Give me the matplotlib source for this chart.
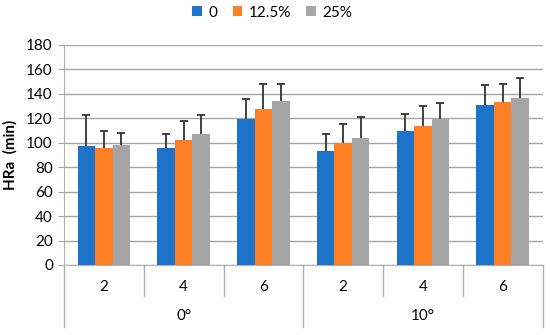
import matplotlib
matplotlib.use("Agg")
import matplotlib.pyplot as plt
from matplotlib.patches import Patch
from matplotlib.transforms import blended_transform_factory
import numpy as np

plt.rcParams['font.family'] = ['Lato', 'DejaVu Sans']

angles = ["0°", "10°"]
times = ["2", "4", "6", "2", "4", "6"]
series_names = ["0", "12.5%", "25%"]
vals_0 = [97.7, 95.5, 119.2, 93.6, 109.7, 130.9]
vals_125 = [96.0, 102.0, 127.3, 99.9, 114.0, 133.0]
vals_25 = [98.0, 107.5, 134.1, 104.2, 119.7, 136.9]
err_0 = [25.0, 11.7, 16.6, 13.3, 14.1, 16.0]
err_125 = [14.0, 15.5, 20.5, 15.7, 16.0, 15.0]
err_25 = [10.3, 14.9, 13.7, 16.6, 12.5, 16.0]

colors = ["#1C73C9", "#FF7F24", "#A5A5A5"]
grid_c = "#A6A6A6"
axis_c = "#B0B0B0"
fs = 11

fig = plt.figure(figsize=(5.5, 3.35), dpi=100)
ax = fig.add_axes([64/550, 70/335, 478.5/550, 220/335])

x = np.arange(len(times))
w = 0.22
for i, (v, e) in enumerate(zip([vals_0, vals_125, vals_25], [err_0, err_125, err_25])):
    xs = x + (i - 1) * w
    v = np.array(v)
    e = np.array(e)
    ax.bar(xs, v, width=w, color=colors[i], zorder=3)
    ax.vlines(xs, v, v + e, color="#333333", linewidth=1.3, zorder=4)
    ax.plot(xs, v + e, linestyle="none", marker="_", markersize=6,
            markeredgewidth=1.3, color="#333333", zorder=4)

ax.set_xlim(-0.5, 5.5)
ax.set_ylim(0, 180)
ax.set_yticks(range(0, 181, 20))
ax.yaxis.grid(True, color=grid_c, linewidth=1.0, zorder=0)
ax.set_axisbelow(True)
for s in ["top", "right"]:
    ax.spines[s].set_visible(False)
ax.spines["left"].set_color(axis_c)
ax.spines["bottom"].set_color(axis_c)
ax.tick_params(axis="y", length=4, color=grid_c, labelsize=fs, pad=4)
ax.tick_params(axis="x", length=0, labelbottom=False)
ax.set_ylabel("HRa  (min)", fontsize=fs, fontweight="bold")
ax.yaxis.set_label_coords(-0.096, 0.5)

trans = blended_transform_factory(ax.transData, ax.transAxes)
for k in range(7):
    xb = k - 0.5
    y_end = -0.282 if k in (0, 3, 6) else -0.141
    ax.plot([xb, xb], [0, y_end], color=axis_c, linewidth=1.0, transform=trans, clip_on=False)
for i, t in enumerate(times):
    ax.text(i, -0.1, t, transform=trans, ha="center", va="center", fontsize=fs)
for j, a in enumerate(angles):
    ax.text(1 + 3 * j, -0.232, a, transform=trans, ha="center", va="center", fontsize=fs)

handles = [Patch(facecolor=c, edgecolor="none") for c in colors]
fig.legend(handles, series_names, loc="center", bbox_to_anchor=(0.495, 0.962), ncol=3,
           frameon=False, fontsize=fs, handlelength=0.65, handleheight=0.65,
           handletextpad=0.4, columnspacing=1.0)

fig.savefig("out.png", dpi=100)
